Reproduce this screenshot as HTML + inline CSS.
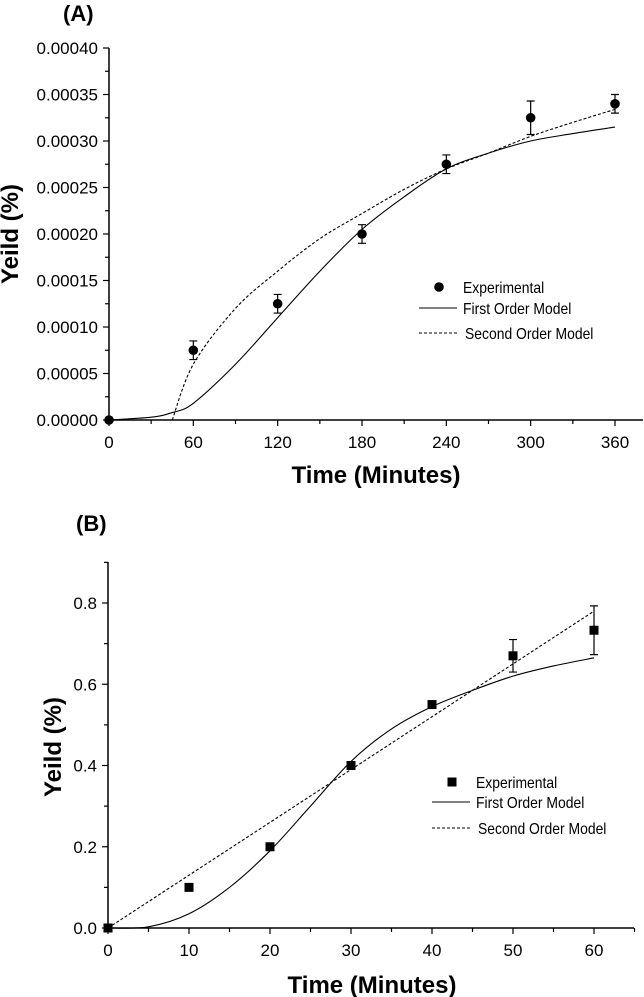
<!DOCTYPE html>
<html><head><meta charset="utf-8"><style>
html,body{margin:0;padding:0;background:#fff;}
svg{display:block;font-family:"Liberation Sans",Arial,sans-serif;}
</style></head><body>
<svg id="fig" width="644" height="997" viewBox="0 0 644 997" xmlns="http://www.w3.org/2000/svg"></svg>
<script>
// ---- Chart A data ----
const aX = [0, 60, 120, 180, 240, 300, 360];
const aY = [0, 0.000075, 0.000125, 0.0002, 0.000275, 0.000325, 0.00034];
const aErr = [0, 0.00001, 0.00001, 0.00001, 0.00001, 0.000018, 0.00001];
const aFirstX = [0, 30, 45, 60, 90, 120, 150, 180, 210, 240, 270, 300, 330, 360];
const aFirstY = [0, 0.000003, 0.000008, 0.000018, 0.00006, 0.00011, 0.00016, 0.000205, 0.00024, 0.00027, 0.000287, 0.0003, 0.000308, 0.000315];
const aSecondX = [45, 60, 90, 120, 150, 180, 210, 240, 270, 300, 330, 360];
const aSecondY = [0, 0.00006, 0.00012, 0.00016, 0.000195, 0.000222, 0.000248, 0.00027, 0.000287, 0.000305, 0.00032, 0.000334];
const aXTicks = ["0", "60", "120", "180", "240", "300", "360"];
const aYTicks = ["0.00000", "0.00005", "0.00010", "0.00015", "0.00020", "0.00025", "0.00030", "0.00035", "0.00040"];
// ---- Chart B data ----
const bX = [0, 10, 20, 30, 40, 50, 60];
const bY = [0, 0.1, 0.2, 0.4, 0.55, 0.67, 0.733];
const bErr = [0, 0, 0, 0, 0, 0.04, 0.06];
const bFirstX = [0, 5, 10, 15, 20, 25, 30, 35, 40, 45, 50, 55, 60];
const bFirstY = [0, 0.003, 0.035, 0.1, 0.19, 0.3, 0.41, 0.49, 0.545, 0.585, 0.62, 0.645, 0.665];
const bSecondX = [0, 10, 20, 30, 40, 50, 60];
const bSecondY = [0, 0.13, 0.26, 0.39, 0.52, 0.65, 0.78];
const bXTicks = ["0", "10", "20", "30", "40", "50", "60"];
const bYTicks = ["0.0", "0.2", "0.4", "0.6", "0.8"];

const NS = "http://www.w3.org/2000/svg";
const svg = document.getElementById("fig");
function mk(tag, attrs, parent) {
  const e = document.createElementNS(NS, tag);
  for (const k in attrs) e.setAttribute(k, attrs[k]);
  (parent || svg).appendChild(e);
  return e;
}
function txt(s, attrs, parent) { const t = mk("text", attrs, parent); t.textContent = s; return t; }
function squeeze(t, f) {
  const w = t.getComputedTextLength();
  t.setAttribute("textLength", (w * f).toFixed(1));
  t.setAttribute("lengthAdjust", "spacingAndGlyphs");
}
function smooth(pts) {
  let d = "M" + pts[0][0] + "," + pts[0][1];
  for (let i = 0; i < pts.length - 1; i++) {
    const p0 = pts[i - 1] || pts[i], p1 = pts[i], p2 = pts[i + 1], p3 = pts[i + 2] || p2;
    const c1 = [p1[0] + (p2[0] - p0[0]) / 6, p1[1] + (p2[1] - p0[1]) / 6];
    const c2 = [p2[0] - (p3[0] - p1[0]) / 6, p2[1] - (p3[1] - p1[1]) / 6];
    d += " C" + c1[0] + "," + c1[1] + " " + c2[0] + "," + c2[1] + " " + p2[0] + "," + p2[1];
  }
  return d;
}

function chart(cfg) {
  const g = mk("g", {});
  
  
  const sx = v => cfg.x0 + (v - cfg.xmin) / (cfg.xmax - cfg.xmin) * (cfg.x1 - cfg.x0);
  const sy = v => cfg.y0 - (v - cfg.ymin) / (cfg.ymax - cfg.ymin) * (cfg.y0 - cfg.y1);
  const ax = mk("line", {x1: cfg.x0, y1: sy(cfg.ymin), x2: cfg.xEnd, y2: sy(cfg.ymin), stroke: "#000", "stroke-width": 1.5}, g);
  
  
  const ay = mk("line", {x1: cfg.x0, y1: sy(cfg.ymin), x2: cfg.x0, y2: cfg.yTop, stroke: "#000", "stroke-width": 1.5}, g);
  
  
  const xStep = (cfg.xmax - cfg.xmin) / (cfg.xTicks.length - 1);
  for (let v = cfg.xmin; sx(v) <= cfg.xEnd + 0.5; v += xStep / 2) {
    const major = Math.abs(((v - cfg.xmin) / xStep) - Math.round((v - cfg.xmin) / xStep)) < 1e-6;
    mk("line", {x1: sx(v), x2: sx(v), y1: cfg.y0, y2: cfg.y0 + (major ? 6 : 4), stroke: "#000", "stroke-width": 1.2}, g);
  }
  cfg.xTicks.forEach((s, i) => {
    const t = txt(s, {x: sx(cfg.xmin + i * xStep), y: cfg.y0 + 28, "text-anchor": "middle", "font-size": 17}, g);
    
    
  });
  const yStep = (cfg.ymax - cfg.ymin) / (cfg.yTicks.length - 1);
  for (let v = cfg.ymin; sy(v) >= cfg.yTop - 0.5; v += yStep / 2) {
    const major = Math.abs(((v - cfg.ymin) / yStep) - Math.round((v - cfg.ymin) / yStep)) < 1e-6;
    mk("line", {x1: cfg.x0, x2: cfg.x0 - (major ? 6 : 4), y1: sy(v), y2: sy(v), stroke: "#000", "stroke-width": 1.2}, g);
  }
  cfg.yTicks.forEach((s, i) => {
    const t = txt(s, {x: cfg.x0 - 11, y: sy(cfg.ymin + i * yStep) + 6, "text-anchor": "end", "font-size": 17}, g);
    
    
  });
  const f = mk("path", {d: smooth(cfg.fx.map((x, i) => [sx(x), sy(cfg.fy[i])])), fill: "none", stroke: "#000", "stroke-width": 1.1}, g);
  
  
  const s2 = mk("path", {d: smooth(cfg.sx2.map((x, i) => [sx(x), sy(cfg.sy2[i])])), fill: "none", stroke: "#000", "stroke-width": 1.1, "stroke-dasharray": "3,2"}, g);
  
  
  cfg.px.forEach((x, i) => {
    const cx = sx(x), cy = sy(cfg.py[i]), e = cfg.pe[i];
    if (e > 0) {
      const eb = mk("path", {d: `M${cx},${sy(cfg.py[i] + e)}V${sy(cfg.py[i] - e)}M${cx - 4},${sy(cfg.py[i] + e)}h8M${cx - 4},${sy(cfg.py[i] - e)}h8`, stroke: "#000", "stroke-width": 1.2, fill: "none"}, g);
      
      
    }
    let m;
    if (cfg.square) m = mk("rect", {x: cx - 4.5, y: cy - 4.5, width: 9, height: 9, fill: "#000"}, g);
    else m = mk("circle", {cx: cx, cy: cy, r: 4.8, fill: "#000"}, g);
    
    
  });
  const xt = txt("Time (Minutes)", {x: cfg.xtX, y: cfg.xtY, "text-anchor": "middle", "font-size": 24, "font-weight": "bold"}, g);
  
  
  const yt = txt("Yeild (%)", {x: 0, y: 0, "text-anchor": "middle", "font-size": 24, "font-weight": "bold", transform: `translate(${cfg.ytX},${cfg.ytY}) rotate(-90)`}, g);
  
  
  const pl = txt(cfg.panel, {x: cfg.plX, y: cfg.plY, "font-size": 22, "font-weight": "bold"}, g);
  
  
  const L = cfg.leg;
  const lg = mk("g", {}, g);
  
  
  if (cfg.square) mk("rect", {x: L.mx - 4.5, y: L.y1 - 4.5, width: 9, height: 9, fill: "#000"}, lg);
  else mk("circle", {cx: L.mx, cy: L.y1, r: 4.8, fill: "#000"}, lg);
  squeeze(txt("Experimental", {x: L.tx, y: L.y1 + 6, "font-size": 16}, lg), 0.87);
  mk("line", {x1: L.lx0, x2: L.lx1, y1: L.y2, y2: L.y2, stroke: "#000", "stroke-width": 1.1}, lg);
  squeeze(txt("First Order Model", {x: L.tx, y: L.y2 + 6, "font-size": 16}, lg), 0.87);
  mk("line", {x1: L.lx0, x2: L.lx1, y1: L.y3, y2: L.y3, stroke: "#000", "stroke-width": 1.1, "stroke-dasharray": "3,2"}, lg);
  squeeze(txt("Second Order Model", {x: L.tx + 2, y: L.y3 + 6, "font-size": 16}, lg), 0.87);
}

chart({name: "chart-a", x0: 109, x1: 615, xmin: 0, xmax: 360, xEnd: 643, y0: 420, y1: 48, ymin: 0, ymax: 0.0004, yTop: 48,
  xTicks: aXTicks, yTicks: aYTicks, px: aX, py: aY, pe: aErr, fx: aFirstX, fy: aFirstY, sx2: aSecondX, sy2: aSecondY,
  square: false, xtX: 376, xtY: 483, ytX: 18, ytY: 234, panel: "(A)", plX: 63, plY: 21,
  leg: {mx: 439, tx: 463, lx0: 419, lx1: 457, y1: 287, y2: 308, y3: 333}});
chart({name: "chart-b", x0: 108, x1: 594, xmin: 0, xmax: 60, xEnd: 634, y0: 928, y1: 603, ymin: 0, ymax: 0.8, yTop: 562,
  xTicks: bXTicks, yTicks: bYTicks, px: bX, py: bY, pe: bErr, fx: bFirstX, fy: bFirstY, sx2: bSecondX, sy2: bSecondY,
  square: true, xtX: 372, xtY: 993, ytX: 61, ytY: 747, panel: "(B)", plX: 76, plY: 531,
  leg: {mx: 452, tx: 476, lx0: 432, lx1: 470, y1: 782, y2: 802, y3: 828}});
</script>
</body></html>
